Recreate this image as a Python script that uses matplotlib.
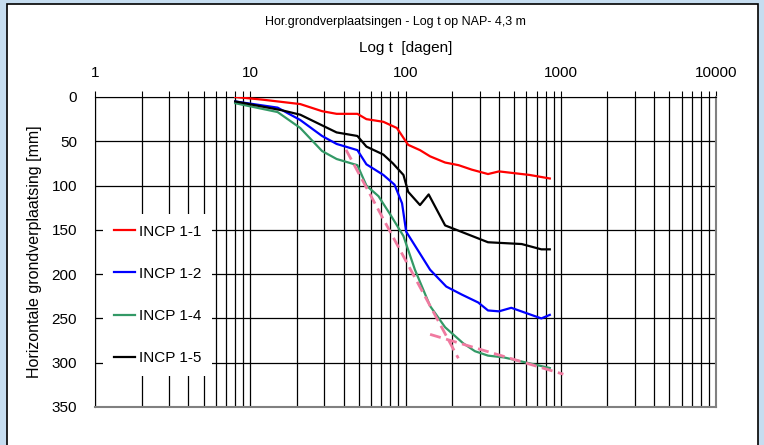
import numpy as np
import matplotlib
matplotlib.use('Agg')
from matplotlib import pyplot as plt
from matplotlib import ticker
from matplotlib.patches import Rectangle

t_11 = [8, 12, 21, 29, 36, 49, 56, 72, 88, 104, 124, 144, 180, 220, 267, 340, 400, 630, 850]
u_11 = [0, 3, 8, 16, 19, 19, 25, 28, 35, 54, 60, 67, 74, 77, 82, 87, 84, 88, 92]

t_12 = [8, 15, 21, 29, 36, 49, 56, 72, 85, 95, 101, 144, 183, 230, 294, 340, 400, 480, 750, 850]
u_12 = [5, 12, 26, 44, 53, 60, 76, 88, 99, 120, 152, 195, 214, 223, 232, 241, 242, 238, 250, 246]

t_14 = [8, 15, 21, 29, 36, 49, 56, 67, 80, 97, 115, 144, 180, 235, 280, 340, 430, 850]
u_14 = [7, 17, 35, 61, 70, 77, 100, 112, 133, 157, 195, 236, 260, 278, 287, 292, 294, 306]

t_15 = [8, 16, 21, 29, 36, 49, 56, 72, 83, 97, 104, 124, 141, 180, 340, 560, 750, 850]
u_15 = [5, 15, 20, 32, 40, 44, 56, 65, 75, 88, 107, 122, 110, 145, 164, 166, 172, 172]

# raaklijnen (roze gestippeld)
t_fit1 = [41.4, 219]
u_fit1 = [59.6, 295]
t_fit2 = [144, 1040]
u_fit2 = [268, 313]

labels = ["INCP 1-1", "INCP 1-2", "INCP 1-4", "INCP 1-5"]
x_ticks = [1, 10, 100, 1000, 10000]
y_ticks = [0, 50, 100, 150, 200, 250, 300, 350]

plt.rcParams['font.family'] = ['Liberation Sans', 'DejaVu Sans']

fig = plt.figure(figsize=(7.64, 4.45), dpi=100)
fig.patch.set_facecolor('#c6ddf0')
fig.patches.append(Rectangle((7 / 764, -0.05), 751 / 764, 1.05 - 4 / 445,
                             transform=fig.transFigure, facecolor='white',
                             edgecolor='black', linewidth=1.2, zorder=-10))

ax = fig.add_axes([95 / 764, 1 - 407 / 445, 621 / 764, 310 / 445])
ax.set_zorder(1)
ax.set_xscale('log')
ax.set_xlim(1, 10000)
ax.set_ylim(350, 0)

ax.plot(t_11, u_11, color='#ff0000', lw=1.6, label=labels[0], zorder=3)
ax.plot(t_12, u_12, color='#0000ff', lw=1.6, label=labels[1], zorder=3)
ax.plot(t_14, u_14, color='#339966', lw=1.6, label=labels[2], zorder=3)
ax.plot(t_15, u_15, color='#000000', lw=1.6, label=labels[3], zorder=3)
ax.plot(t_fit1, u_fit1, color='#f07aa0', lw=2.0, dashes=(4, 2), zorder=4)
ax.plot(t_fit2, u_fit2, color='#f07aa0', lw=2.0, dashes=(4, 2), zorder=4)

ax.xaxis.tick_top()
ax.xaxis.set_major_locator(ticker.FixedLocator(x_ticks))
ax.xaxis.set_major_formatter(ticker.FixedFormatter([str(v) for v in x_ticks]))
ax.xaxis.set_minor_locator(ticker.LogLocator(base=10, subs=np.arange(2, 10)))
ax.xaxis.set_minor_formatter(ticker.NullFormatter())
ax.set_yticks(y_ticks)
ax.tick_params(axis='x', which='both', direction='out', length=4, width=0.8,
               pad=8, labelsize=11, top=True, bottom=False)
ax.tick_params(axis='y', which='both', length=0, pad=13, labelsize=11)

ax.grid(True, which='both', axis='x', color='black', lw=0.9)
ax.grid(True, which='major', axis='y', color='black', lw=0.9)
ax.set_axisbelow(True)

for s in ['top', 'left']:
    ax.spines[s].set_color('black')
for s in ['bottom', 'right']:
    ax.spines[s].set_color('#808080')
    ax.spines[s].set_linewidth(1.5)

ax.set_ylabel("Horizontale grondverplaatsing [mm]", fontsize=11.5, labelpad=7)

fig.text(395 / 764, 1 - 22 / 445, "Hor.grondverplaatsingen - Log t op NAP- 4,3 m",
         ha='center', va='center', fontsize=9)
fig.text(406 / 764, 1 - 48 / 445, "Log t  [dagen]", ha='center', va='center', fontsize=11)

leg = ax.legend(loc='upper left', bbox_to_anchor=(0.013, 0.623), borderaxespad=0,
                fontsize=11, frameon=True, fancybox=False, framealpha=1,
                facecolor='white', edgecolor='none', handlelength=1.4,
                handletextpad=0.25, labelspacing=1.85, borderpad=0.7)
leg.set_zorder(5)

fig.savefig("out.png", dpi=100, facecolor=fig.get_facecolor())
